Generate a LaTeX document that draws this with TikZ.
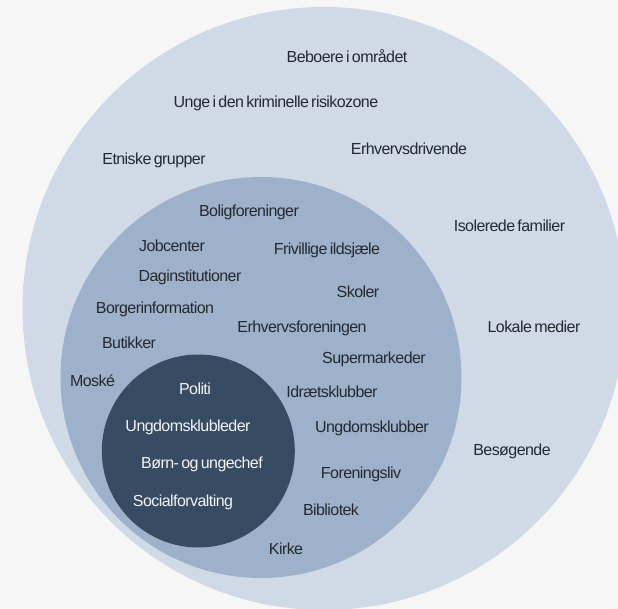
\documentclass[tikz,border=0pt]{standalone}
\usepackage{fontspec}
\setmainfont{Liberation Sans}[LetterSpace=-3.5,WordSpace=0.6]
\usepackage{tikz}

\definecolor{bggray}{HTML}{F6F6F6}
\definecolor{outerblue}{HTML}{D0DAE6}
\definecolor{midblue}{HTML}{9EB1CB}
\definecolor{innerblue}{HTML}{374C63}
\definecolor{labeltext}{HTML}{25292F}
\definecolor{innertext}{HTML}{F2F4F7}

\begin{document}
\begin{tikzpicture}[x=1pt, y=-1pt,
  every node/.style={inner sep=0pt, outer sep=0pt, text height=11.5pt, text depth=0pt,
    font=\fontsize{16pt}{19pt}\selectfont},
  lbl/.style={text=labeltext},
  innerlbl/.style={text=innertext}]
\fill[bggray] (0,0) rectangle (618,609);
\useasboundingbox (0,0) rectangle (618,609);
\clip (0,0) rectangle (618,609);

\fill[outerblue] (324,308.5) circle[radius=301.5pt];
\fill[midblue] (261,377.5) circle[radius=200.5pt];
\fill[innerblue] (198.3,451) circle[radius=96.5pt];

\node[lbl] (beboere) at (347,57) {Beboere i området};
\node[lbl] (unge) at (276,102) {Unge i den kriminelle risikozone};
\node[lbl] (etniske) at (154,159) {Etniske grupper};
\node[lbl] (erhvdriv) at (409,149) {Erhvervsdrivende};
\node[lbl] (isolerede) at (509.5,225.5) {Isolerede familier};
\node[lbl] (lokale) at (534,327) {Lokale medier};
\node[lbl] (besoeg) at (512,450) {Besøgende};

\node[lbl] (bolig) at (249,211) {Boligforeninger};
\node[lbl] (job) at (172,246) {Jobcenter};
\node[lbl] (frivillige) at (327,249) {Frivillige ildsjæle};
\node[lbl] (dagin) at (190,276) {Daginstitutioner};
\node[lbl] (skoler) at (358,292) {Skoler};
\node[lbl] (borger) at (155,308) {Borgerinformation};
\node[lbl] (erhvforen) at (302,327) {Erhvervsforeningen};
\node[lbl] (butikker) at (129,343) {Butikker};
\node[lbl] (supermarked) at (374,358) {Supermarkeder};
\node[lbl] (moske) at (92.5,381) {Moské};
\node[lbl] (idraet) at (332,392) {Idrætsklubber};
\node[lbl] (ungklub) at (372,427) {Ungdomsklubber};
\node[lbl] (forening) at (361,473) {Foreningsliv};
\node[lbl] (bibliotek) at (331,510) {Bibliotek};
\node[lbl] (kirke) at (286,549) {Kirke};

\node[innerlbl] (politi) at (195,389) {Politi};
\node[innerlbl] (ungleder) at (188,426) {Ungdomsklubleder};
\node[innerlbl] (bornchef) at (202,463) {Børn- og ungechef};
\node[innerlbl] (social) at (183,501) {Socialforvalting};
\end{tikzpicture}
\end{document}
